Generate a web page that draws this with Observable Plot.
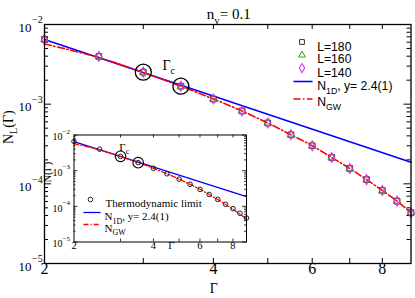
<!DOCTYPE html>
<html><head><meta charset="utf-8">
<script src="https://cdn.jsdelivr.net/npm/d3@7"></script>
<script src="https://cdn.jsdelivr.net/npm/@observablehq/plot@0.6"></script>
<style>
body{margin:0;background:#fff}
#wrap{position:relative;width:415px;height:298px}
#wrap svg{position:absolute;left:0;top:0}
</style>
</head><body><div id="wrap"></div>
<script>
// ---- data ----
const gammas  = [2, 2.5, 3, 3.5, 4, 4.5, 5, 5.5, 6, 6.5, 7, 7.5, 8, 8.5, 9];
const nL180   = [6.5e-3, 3.97e-3, 2.52e-3, 1.68e-3, 1.16e-3, 8.2e-4, 5.8e-4, 4.13e-4, 3.01e-4, 2.14e-4, 1.56e-4, 1.13e-4, 8.26e-5, 6.07e-5, 4.34e-5];
const nL160   = [6.5e-3, 3.97e-3, 2.52e-3, 1.68e-3, 1.16e-3, 8.2e-4, 5.8e-4, 4.13e-4, 3.01e-4, 2.14e-4, 1.56e-4, 1.13e-4, 8.26e-5, 6.07e-5, 4.4e-5];
const nL140   = [6.5e-3, 3.97e-3, 2.52e-3, 1.68e-3, 1.16e-3, 8.2e-4, 5.8e-4, 4.13e-4, 3.01e-4, 2.14e-4, 1.56e-4, 1.13e-4, 8.26e-5, 6.07e-5, 4.3e-5];
const thermoN = [6.6e-3, 4.0e-3, 2.52e-3, 1.68e-3, 1.16e-3, 8.2e-4, 5.8e-4, 4.15e-4, 3.0e-4, 2.15e-4, 1.57e-4, 1.14e-4, 8.6e-5, 6.4e-5, 4.7e-5];
const gwN     = [5.7e-3, 3.85e-3, 2.5e-3, 1.68e-3, 1.16e-3, 8.2e-4, 5.8e-4, 4.13e-4, 3.01e-4, 2.14e-4, 1.56e-4, 1.13e-4, 8.26e-5, 6.07e-5, 4.34e-5];
const n1dGamma = [2, 9];
const n1dN     = [6.5e-3, 1.87e-4];
const gammaC   = [3, 3.5];
const gammaCN  = [2.52e-3, 1.68e-3];
const gammaCLabelMain  = {g: 3.245, n: 3.06e-3};
const gammaCLabelInset = {g: 2.97, n: 4.5e-3};
const xTickLabels = [2, 4, 6, 8];
const xTicks = [3, 4, 5, 6, 7, 8];
const yDecades = [1e-5, 1e-4, 1e-3, 1e-2];
const title = "n_{v}= 0.1";
const xLabel = "Γ";
const yLabelMain = "N_{L}(Γ)";
const yLabelInset = "N(Γ)";
const legendLabels = ["L=180", "L=160", "L=140", "N_{1D}, y= 2.4(1)", "N_{GW}"];
const insetLegendLabels = ["Thermodynamic limit", "N_{1D}, y= 2.4(1)", "N_{GW}"];

const rows = (xs, ys) => xs.map((g, i) => ({g, n: ys[i]}));
const yMinor = yDecades.slice(0, 3).flatMap(d => d3.range(2, 10).map(k => k * d));
const lineSymbol = w => ({draw(ctx) { ctx.moveTo(-w / 2, 0); ctx.lineTo(w / 2, 0); }});
const SERIF = "'Liberation Serif', 'Times New Roman', serif";
const SANS = "'Liberation Sans', Arial, sans-serif";
const RED_DASH = "7,2.5,1.5,2.5";
const INSET_DASH = "5,2,1.2,2";

// legend layout (pixel offsets from the frame's top-left corner)
const mainLegendRowDy = [17.5, 30.3, 43.6, 57, 72.8];
const insetLegendRowDy = [64, 77.3, 89];
const insetLegendTextDx = [31.5, 30.5, 30.5];

// ---- main chart ----
const W = 366.5, H = 239;
const main = Plot.plot({
  width: 415, height: 298,
  marginLeft: 44, marginRight: 4.5, marginTop: 24, marginBottom: 35,
  x: {type: "log", domain: [2, 9], axis: null},
  y: {type: "log", domain: [1e-5, 1e-2], axis: null},
  style: {background: "white", fontFamily: SERIF, color: "black", overflow: "visible"},
  marks: [
    // ticks (inward, all four sides)
    Plot.ruleX(xTicks, {x: d => d, insetTop: H - 5, strokeWidth: 1}),
    Plot.ruleX(xTicks, {x: d => d, insetBottom: H - 5, strokeWidth: 1}),
    Plot.ruleY(yDecades, {y: d => d, insetRight: W - 7, strokeWidth: 1}),
    Plot.ruleY(yDecades, {y: d => d, insetLeft: W - 7, strokeWidth: 1}),
    Plot.ruleY(yMinor, {y: d => d, insetRight: W - 4, strokeWidth: 1}),
    Plot.ruleY(yMinor, {y: d => d, insetLeft: W - 4, strokeWidth: 1}),
    // tick labels
    Plot.text(yDecades, {y: d => d, frameAnchor: "left", text: () => "10", textAnchor: "end", dx: -13, dy: 3, fontSize: 13}),
    Plot.text(yDecades, {y: d => d, frameAnchor: "left", text: d => "−" + Math.round(-Math.log10(d)), textAnchor: "start", dx: -12.5, dy: -4.5, fontSize: 10}),
    Plot.text(xTickLabels, {x: d => d, frameAnchor: "bottom", text: d => String(d), dy: 10, fontSize: 16}),
    Plot.text([xLabel], {frameAnchor: "bottom", dx: -14, dy: 29, fontSize: 14}),
    Plot.text([yLabelMain], {frameAnchor: "left", dx: -36, rotate: -90, fontSize: 14}),
    Plot.text([title], {frameAnchor: "top", dy: -16, dx: 1, fontSize: 15}),
    // data
    Plot.line(rows(n1dGamma, n1dN), {x: "g", y: "n", stroke: "#0000ff", strokeWidth: 1.6}),
    Plot.line(rows(gammas, gwN), {x: "g", y: "n", stroke: "#ff0000", strokeWidth: 1.6, strokeDasharray: RED_DASH, curve: "catmull-rom"}),
    Plot.dot(rows(gammas, nL180), {x: "g", y: "n", symbol: "square", r: 3.2, stroke: "#333", strokeWidth: 1, fill: "none"}),
    Plot.dot(rows(gammas, nL160), {x: "g", y: "n", symbol: "triangle", r: 2.8, stroke: "#22aa22", strokeWidth: 1, fill: "none"}),
    Plot.dot(rows(gammas, nL140), {x: "g", y: "n", symbol: "diamond", r: 3, stroke: "#e030e0", strokeWidth: 1.1, fill: "none"}),
    Plot.dot(rows(gammaC, gammaCN), {x: "g", y: "n", r: 8, stroke: "black", strokeWidth: 1.3, fill: "none"}),
    Plot.text([gammaCLabelMain], {x: "g", y: "n", text: () => "Γ_{c}", textAnchor: "start", fontSize: 14}),
    // legend
    Plot.dot([legendLabels[0]], {frameAnchor: "top-left", dx: 257.5, dy: mainLegendRowDy[0], symbol: "square", r: 2.7, stroke: "#333", fill: "none", strokeWidth: 1}),
    Plot.dot([legendLabels[1]], {frameAnchor: "top-left", dx: 257.5, dy: mainLegendRowDy[1] + 0.3, symbol: "triangle", r: 2.5, stroke: "#22aa22", fill: "none", strokeWidth: 1}),
    Plot.dot([legendLabels[2]], {frameAnchor: "top-left", dx: 257.5, dy: mainLegendRowDy[2], symbol: "diamond", r: 2.8, stroke: "#e030e0", fill: "none", strokeWidth: 1.1}),
    Plot.dot([legendLabels[3]], {frameAnchor: "top-left", dx: 258.5, dy: 57, symbol: lineSymbol(19), stroke: "#0000ff", fill: "none", strokeWidth: 1.6}),
    Plot.dot([legendLabels[4]], {frameAnchor: "top-left", dx: 258.5, dy: 74.5, symbol: lineSymbol(19), stroke: "#ff0000", fill: "none", strokeWidth: 1.6, strokeDasharray: RED_DASH}),
    ...legendLabels.map((label, i) => Plot.text([label], {frameAnchor: "top-left", dx: 272.7, dy: mainLegendRowDy[i], textAnchor: "start", fontSize: 12.2, fontFamily: SANS})),
    Plot.frame({stroke: "black", strokeWidth: 1.3})
  ]
});

// ---- inset ----
const IW = 172.5, IH = 107;
const inset = Plot.plot({
  width: 415, height: 298,
  marginLeft: 73.5, marginRight: 169, marginTop: 134.5, marginBottom: 56.5,
  x: {type: "log", domain: [2, 9], axis: null},
  y: {type: "log", domain: [1e-5, 1e-2], axis: null},
  style: {background: "transparent", fontFamily: SERIF, color: "black", overflow: "visible"},
  marks: [
    Plot.frame({fill: "white"}),
    Plot.ruleX(xTicks, {x: d => d, insetTop: IH - 3, strokeWidth: 0.8}),
    Plot.ruleX(xTicks, {x: d => d, insetBottom: IH - 3, strokeWidth: 0.8}),
    Plot.ruleY(yDecades, {y: d => d, insetRight: IW - 4, strokeWidth: 0.8}),
    Plot.ruleY(yDecades, {y: d => d, insetLeft: IW - 4, strokeWidth: 0.8}),
    Plot.ruleY(yMinor, {y: d => d, insetRight: IW - 2, strokeWidth: 0.8}),
    Plot.ruleY(yMinor, {y: d => d, insetLeft: IW - 2, strokeWidth: 0.8}),
    Plot.text(yDecades, {y: d => d, frameAnchor: "left", text: () => "10", textAnchor: "end", dx: -11.5, dy: 2, fontSize: 10}),
    Plot.text(yDecades, {y: d => d, frameAnchor: "left", text: d => "−" + Math.round(-Math.log10(d)), textAnchor: "start", dx: -11.5, dy: -3.5, fontSize: 7}),
    Plot.text(xTickLabels, {x: d => d, frameAnchor: "bottom", text: d => String(d), dy: 7, fontSize: 10.5}),
    Plot.text([xLabel], {frameAnchor: "bottom", dx: 11, dy: 7, fontSize: 10.5}),
    Plot.text([yLabelInset], {frameAnchor: "left", dx: -26.5, dy: -6, rotate: -90, fontSize: 10.5}),
    Plot.line(rows(n1dGamma, n1dN), {x: "g", y: "n", stroke: "#0000ff", strokeWidth: 1.3}),
    Plot.line(rows(gammas, gwN), {x: "g", y: "n", stroke: "#ff0000", strokeWidth: 1.3, strokeDasharray: INSET_DASH, curve: "catmull-rom"}),
    Plot.dot(rows(gammas, thermoN), {x: "g", y: "n", r: 2.3, stroke: "#222", strokeWidth: 1, fill: "none"}),
    Plot.dot(rows(gammaC, gammaCN), {x: "g", y: "n", r: 5.3, stroke: "black", strokeWidth: 1.1, fill: "none"}),
    Plot.text([gammaCLabelInset], {x: "g", y: "n", text: () => "Γ_{c}", textAnchor: "start", fontSize: 11}),
    Plot.dot([insetLegendLabels[0]], {frameAnchor: "top-left", dx: 16.5, dy: 64.5, r: 2.3, stroke: "#222", fill: "none", strokeWidth: 1}),
    Plot.dot([insetLegendLabels[1]], {frameAnchor: "top-left", dx: 18, dy: 77.5, symbol: lineSymbol(17), stroke: "#0000ff", fill: "none", strokeWidth: 1.3}),
    Plot.dot([insetLegendLabels[2]], {frameAnchor: "top-left", dx: 18, dy: 89.5, symbol: lineSymbol(17), stroke: "#ff0000", fill: "none", strokeWidth: 1.3, strokeDasharray: INSET_DASH}),
    ...insetLegendLabels.map((label, i) => Plot.text([label], {frameAnchor: "top-left", dx: insetLegendTextDx[i], dy: insetLegendRowDy[i], textAnchor: "start", fontSize: 11})),
    Plot.frame({stroke: "black", strokeWidth: 1})
  ]
});

const wrap = document.getElementById("wrap");
wrap.appendChild(main);
wrap.appendChild(inset);

// turn "_{..}" / "^{..}" markup into real sub/superscript tspans
function richify(svg) {
  svg.querySelectorAll("text").forEach(t => {
    const s = t.textContent;
    if (!/[_^]\{/.test(s)) return;
    const fs = parseFloat(getComputedStyle(t).fontSize) || 12;
    t.textContent = "";
    const re = /([_^])\{([^}]*)\}/g;
    const parts = [];
    let last = 0, m;
    while ((m = re.exec(s))) {
      if (m.index > last) parts.push([s.slice(last, m.index), 0]);
      parts.push([m[2], m[1] === "_" ? 1 : -1]);
      last = re.lastIndex;
    }
    if (last < s.length) parts.push([s.slice(last), 0]);
    let shift = 0;
    for (const [txt, k] of parts) {
      const ts = document.createElementNS("http://www.w3.org/2000/svg", "tspan");
      const target = k === 0 ? 0 : (k > 0 ? 0.32 : -0.4) * fs;
      ts.setAttribute("dy", target - shift);
      shift = target;
      if (k !== 0) ts.setAttribute("font-size", (fs * 0.72).toFixed(2));
      ts.textContent = txt;
      t.appendChild(ts);
    }
  });
}
richify(main);
richify(inset);
</script>
</body></html>
